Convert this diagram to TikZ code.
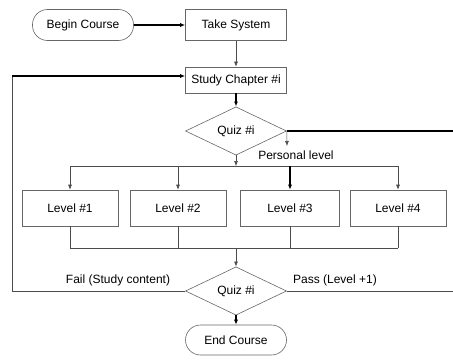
\documentclass[tikz,border=0pt]{standalone}
\usepackage{fontspec}
\setmainfont{Liberation Sans}
\usetikzlibrary{shapes.geometric,arrows.meta}
\begin{document}
\begin{tikzpicture}[x=1pt, y=-1pt,
        box/.style = {draw=black!60, line width=0.6pt, minimum width=101pt, minimum height=31pt, inner sep=1pt, font=\fontsize{12}{14}\selectfont},
        terminal/.style = {box, rounded corners=15pt},
        decision/.style = {draw=black!60, line width=0.6pt, shape=diamond, minimum width=101pt, minimum height=40pt, inner sep=0pt, font=\fontsize{12}{14}\selectfont},
        caption/.style = {inner sep=1pt, font=\fontsize{12}{14}\selectfont},
        thinline/.style = {draw=black!70, line width=0.6pt},
        thickline/.style = {draw=black, line width=1.4pt},
        tip/.style = {-{Latex[length=5pt,width=4pt]}}]
    \useasboundingbox (0,0) rectangle (453,361);

    \node[terminal] (begin) at (83,25) {Begin Course};
    \node[box] (take) at (236,25) {Take System};
    \node[box, minimum height=26pt] (study) at (236,80) {Study Chapter \#i};
    \node[decision] (quiz1) at (236,131) {Quiz \#i};
    \node[box, minimum width=96pt, minimum height=36pt] (lev1) at (70,208) {Level \#1};
    \node[box, minimum width=96pt, minimum height=36pt] (lev2) at (178,208) {Level \#2};
    \node[box, minimum width=99pt, minimum height=36pt] (lev3) at (290,208) {Level \#3};
    \node[box, minimum width=96pt, minimum height=36pt] (lev4) at (398,208) {Level \#4};
    \node[decision] (quiz2) at (236,291) {Quiz \#i};
    \node[terminal, minimum height=30pt] (end) at (236,340) {End Course};

    \node[caption] (personal) at (296,155) {Personal level};
    \node[caption] (fail) at (118,280) {Fail (Study content)};
    \node[caption] (pass) at (335,280) {Pass (Level +1)};

    \coordinate (busC) at (236,166);
    \coordinate (joinC) at (236,248);
    \coordinate (nextEnd) at (453,131);
    \coordinate (levelDrop) at (287,146);
    \coordinate (passEnd) at (453,291);
    \coordinate (loopB) at (12,291);
    \coordinate (loopT) at (12,76);

    % main line
    \draw[thickline, tip] (begin) -- (take);
    \draw[thinline, tip] (take) -- (study);
    \draw[thickline, tip] (study) -- (quiz1);
    \draw[thickline] (quiz1.east) -- (nextEnd);
    \draw[thinline, tip] (quiz1.east) -- (levelDrop);
    \draw[thinline, tip] (quiz1.south) -- (busC);

    % levels
    \draw[thinline] (lev1.north |- busC) -- (lev4.north |- busC);
    \foreach \n in {1,2,4}
        \draw[thinline, tip] (lev\n.north |- busC) -- (lev\n.north);
    \draw[thickline, tip] (lev3.north |- busC) -- (lev3.north);
    \foreach \n in {1,...,4}
        \draw[thinline] (lev\n.south) -- (lev\n.south |- joinC);
    \draw[thinline] (lev1.south |- joinC) -- (lev4.south |- joinC);
    \draw[thinline, tip] (joinC) -- (quiz2.north);

    % result
    \draw[thinline] (quiz2.west) -- (loopB) -- (loopT);
    \draw[thickline, tip] (loopT) -- (loopT -| study.west);
    \draw[thinline] (quiz2.east) -- (passEnd);
    \draw[thickline, tip] (quiz2.south) -- (end.north);
\end{tikzpicture}
\end{document}
